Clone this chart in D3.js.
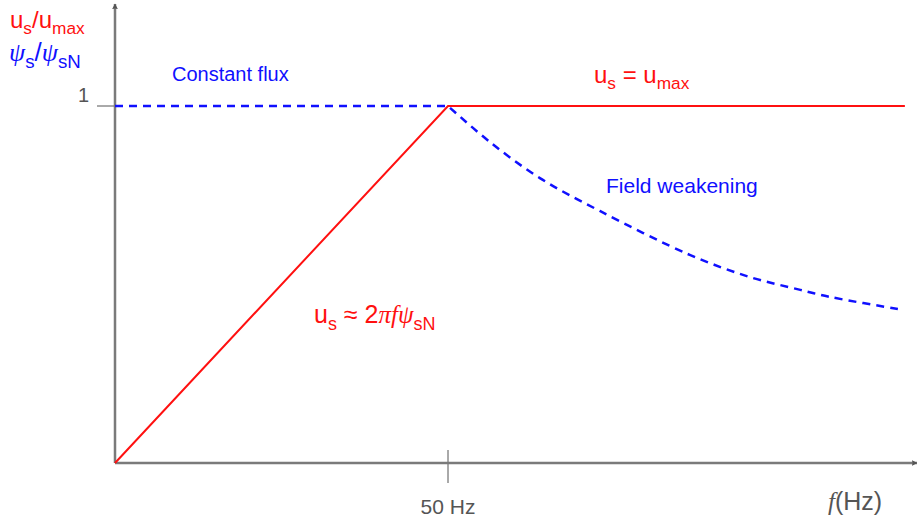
<!DOCTYPE html>
<html>
<head>
<meta charset="utf-8">
<script src="https://cdn.jsdelivr.net/npm/d3@7"></script>
<style>
  html, body { margin: 0; padding: 0; background: #fff; }
  svg { display: block; }
  text { font-family: "Liberation Sans", Arial, sans-serif; }
</style>
</head>
<body>
<svg id="chart" width="917" height="524"></svg>
<script>
// Frequency (Hz) and normalised quantities
const voltageF = [0, 50, 118.6];          // u_s / u_max
const voltageV = [0, 1, 1];
const fluxFlatF = [0, 50];                // ψ_s / ψ_sN, constant-flux range
const fluxFlatV = [1, 1];
const fluxWeakF = [50, 56.3, 63.8, 72.8, 86.3, 95.3, 102.9, 107.4, 118.3]; // field-weakening range
const fluxWeakV = [1, 0.899, 0.798, 0.706, 0.583, 0.521, 0.485, 0.465, 0.429];
const xTicks = [50];
const xTickLabels = ["50 Hz"];
const yTicks = [1];
const yTickLabels = ["1"];

const svg = d3.select("#chart");
const x = d3.scaleLinear().domain([0, 120]).range([115, 914.2]);
const y = d3.scaleLinear().domain([0, 1]).range([463, 106]);

const axisColor = "#7a7a7a";
const red = "#ff1010";
const blue = "#1010ff";

// arrow heads
const defs = svg.append("defs");
defs.append("marker")
  .attr("id", "arrow").attr("viewBox", "0 0 10 10")
  .attr("refX", 9).attr("refY", 5)
  .attr("markerWidth", 6).attr("markerHeight", 6)
  .attr("markerUnits", "userSpaceOnUse")
  .attr("orient", "auto")
  .append("path").attr("d", "M0,0 L10,5 L0,10 L2,5 Z").attr("fill", "#555");

// tick marks
svg.selectAll(".xtick").data(xTicks).enter().append("line")
  .attr("x1", d => x(d)).attr("x2", d => x(d))
  .attr("y1", 450).attr("y2", 483)
  .attr("stroke", "#555").attr("stroke-width", 1);
svg.selectAll(".ytick").data(yTicks).enter().append("line")
  .attr("x1", 97).attr("x2", x(0))
  .attr("y1", d => y(d)).attr("y2", d => y(d))
  .attr("stroke", "#555").attr("stroke-width", 1);

// tick labels
svg.selectAll(".xlab").data(xTicks).enter().append("text")
  .attr("x", d => x(d)).attr("y", 514)
  .attr("text-anchor", "middle").attr("font-size", 21).attr("fill", "#555")
  .text((d, i) => xTickLabels[i]);
svg.selectAll(".ylab").data(yTicks).enter().append("text")
  .attr("x", 89).attr("y", d => y(d) - 4)
  .attr("text-anchor", "end").attr("font-size", 20).attr("fill", "#555")
  .text((d, i) => yTickLabels[i]);

// axes
svg.append("line")
  .attr("x1", x(0)).attr("y1", y(0)).attr("x2", 917).attr("y2", y(0))
  .attr("stroke", axisColor).attr("stroke-width", 2.5).attr("marker-end", "url(#arrow)");
svg.append("line")
  .attr("x1", x(0)).attr("y1", y(0)).attr("x2", x(0)).attr("y2", 4)
  .attr("stroke", axisColor).attr("stroke-width", 2.5).attr("marker-end", "url(#arrow)");

// series
const vLine = d3.line().x(d => x(d[0])).y(d => y(d[1]));
svg.append("path")
  .datum(voltageF.map((f, i) => [f, voltageV[i]]))
  .attr("d", vLine).attr("fill", "none")
  .attr("stroke", red).attr("stroke-width", 2);

// flux: straight constant part, then a smooth decaying curve from the knee
const flatPath = d3.line().x(d => x(d[0])).y(d => y(d[1]))(fluxFlatF.map((f, i) => [f, fluxFlatV[i]]));
const weakPath = d3.line().x(d => x(d[0])).y(d => y(d[1])).curve(d3.curveCatmullRom.alpha(0.5))
  (fluxWeakF.map((f, i) => [f, fluxWeakV[i]]));
svg.append("path")
  .attr("d", flatPath + weakPath.replace(/^M[^A-Za-z]*/, ""))
  .attr("fill", "none")
  .attr("stroke", blue).attr("stroke-width", 2.5)
  .attr("stroke-dasharray", "8,6");

// label with subscripts: parts = [[text, sub?, italic?]]
function rich(xp, yp, parts, color, size) {
  const t = svg.append("text").attr("x", xp).attr("y", yp)
    .attr("font-size", size).attr("fill", color);
  let down = false;
  parts.forEach(([s, sub, ital]) => {
    const ts = t.append("tspan").text(s);
    if (sub) ts.attr("font-size", size * 0.72);
    if (ital) ts.attr("font-family", "'Liberation Serif', 'DejaVu Serif', serif").attr("font-style", "italic");
    const shift = size * 0.27;
    if (sub && !down) { ts.attr("dy", shift); down = true; }
    else if (!sub && down) { ts.attr("dy", -shift); down = false; }
  });
  return t;
}

rich(10, 28, [["u"], ["s", true], ["/u"], ["max", true]], red, 24);
rich(9, 61, [["ψ", false, true], ["s", true], ["/", false], ["ψ", false, true], ["sN", true]], blue, 26);
rich(314, 323, [["u"], ["s", true], [" ≈ 2"], ["πfψ", false, true], ["sN", true]], red, 25);
rich(594, 83, [["u"], ["s", true], [" = u"], ["max", true]], red, 24);

svg.append("text").attr("x", 172).attr("y", 81)
  .attr("font-size", 20).attr("fill", blue).text("Constant flux");
svg.append("text").attr("x", 606).attr("y", 193)
  .attr("font-size", 21).attr("fill", blue).text("Field weakening");

// x-axis title
const xt = svg.append("text").attr("x", 828).attr("y", 510).attr("font-size", 25).attr("fill", "#555");
xt.append("tspan").text("f").attr("font-family", "'Liberation Serif', serif").attr("font-style", "italic");
xt.append("tspan").text("(Hz)");
</script>
</body>
</html>
